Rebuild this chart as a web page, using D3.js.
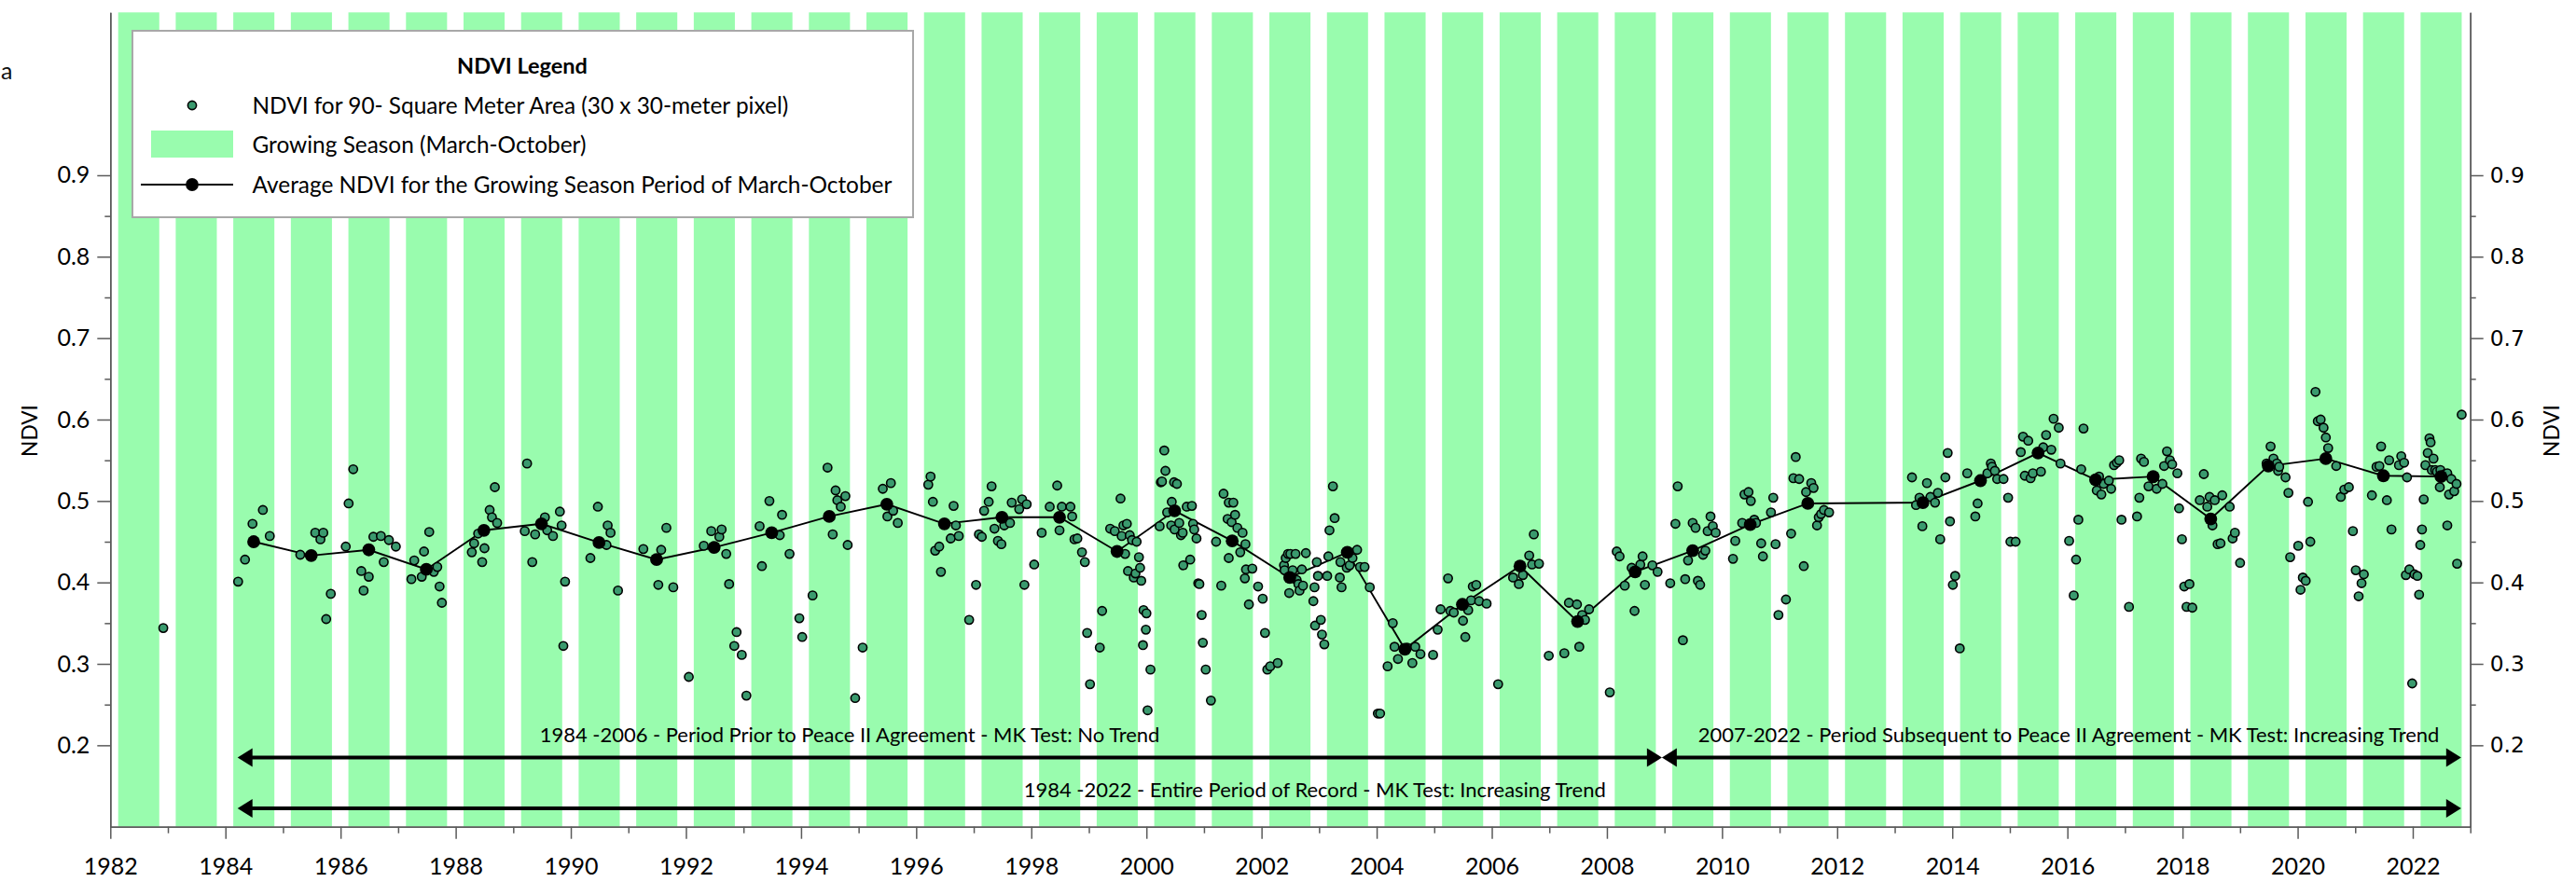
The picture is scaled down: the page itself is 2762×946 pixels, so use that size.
<!DOCTYPE html>
<html><head><meta charset="utf-8">
<script src="https://cdn.jsdelivr.net/npm/d3@7/dist/d3.min.js"></script>
<style>html,body{margin:0;padding:0;background:#fff;}svg{display:block;}</style>
</head><body>
<svg id="chart" width="2762" height="946"></svg>
<script>
// ---------- DATA ----------
// NDVI observations: [decimal year, NDVI]
const ndviPoints = [
[1982.92,0.344],
[1984.22,0.401],[1984.34,0.428],[1984.47,0.472],[1984.65,0.489],[1984.77,0.457],
[1985.30,0.434],[1985.56,0.461],[1985.65,0.453],[1985.70,0.461],[1985.75,0.355],[1985.83,0.386],
[1986.09,0.444],[1986.14,0.497],[1986.22,0.539],[1986.36,0.414],[1986.40,0.390],[1986.49,0.407],[1986.57,0.456],[1986.70,0.457],[1986.75,0.425],[1986.84,0.452],[1986.96,0.444],
[1987.23,0.404],[1987.28,0.427],[1987.41,0.407],[1987.45,0.438],[1987.54,0.462],[1987.62,0.413],[1987.68,0.419],[1987.72,0.395],[1987.76,0.375],
[1988.28,0.437],[1988.32,0.448],[1988.39,0.460],[1988.46,0.425],[1988.50,0.442],[1988.59,0.489],[1988.63,0.480],[1988.68,0.517],[1988.72,0.473],
[1989.20,0.463],[1989.24,0.546],[1989.33,0.425],[1989.38,0.459],[1989.55,0.480],[1989.59,0.464],[1989.69,0.457],[1989.81,0.487],[1989.84,0.470],[1989.87,0.322],[1989.90,0.401],
[1990.34,0.430],[1990.47,0.493],[1990.62,0.446],[1990.64,0.470],[1990.69,0.461],[1990.82,0.390],
[1991.26,0.441],[1991.52,0.397],[1991.57,0.440],[1991.66,0.467],[1991.78,0.394],[1992.05,0.284],
[1992.31,0.445],[1992.44,0.463],[1992.58,0.456],[1992.62,0.465],[1992.70,0.435],[1992.75,0.398],[1992.84,0.322],[1992.88,0.339],[1992.97,0.311],[1993.05,0.261],
[1993.28,0.469],[1993.32,0.420],[1993.45,0.500],[1993.63,0.458],[1993.67,0.483],[1993.80,0.435],[1993.97,0.356],[1994.02,0.333],
[1994.20,0.384],[1994.46,0.541],[1994.55,0.459],[1994.60,0.513],[1994.63,0.501],[1994.69,0.493],[1994.77,0.506],[1994.81,0.446],[1994.94,0.258],[1995.07,0.320],
[1995.42,0.515],[1995.50,0.481],[1995.56,0.522],[1995.60,0.488],[1995.68,0.473],
[1996.21,0.520],[1996.25,0.530],[1996.29,0.499],[1996.33,0.439],[1996.40,0.444],[1996.43,0.413],[1996.60,0.454],[1996.65,0.494],[1996.69,0.470],[1996.74,0.457],[1996.92,0.354],
[1997.04,0.397],[1997.09,0.459],[1997.14,0.456],[1997.18,0.488],[1997.26,0.499],[1997.31,0.518],[1997.36,0.466],[1997.42,0.451],[1997.48,0.447],[1997.53,0.470],[1997.63,0.473],[1997.66,0.498],[1997.79,0.490],[1997.84,0.502],[1997.88,0.397],[1997.92,0.496],
[1998.05,0.422],[1998.18,0.461],[1998.32,0.493],[1998.45,0.519],[1998.49,0.464],[1998.53,0.493],[1998.68,0.493],[1998.71,0.481],[1998.75,0.453],[1998.80,0.454],[1998.88,0.437],[1998.93,0.425],[1998.97,0.338],
[1999.02,0.275],[1999.19,0.320],[1999.23,0.365],[1999.37,0.466],[1999.45,0.463],[1999.55,0.503],[1999.57,0.457],[1999.60,0.470],[1999.63,0.435],[1999.66,0.472],[1999.68,0.414],[1999.71,0.458],[1999.75,0.452],[1999.78,0.406],[1999.81,0.411],[1999.83,0.450],[1999.87,0.431],[1999.89,0.418],[1999.91,0.402],[1999.94,0.323],[1999.95,0.366],[1999.99,0.342],[2000.00,0.362],[2000.02,0.243],[2000.07,0.293],
[2000.23,0.469],[2000.25,0.523],[2000.27,0.524],[2000.31,0.562],[2000.33,0.537],[2000.36,0.486],[2000.43,0.470],[2000.44,0.499],[2000.48,0.523],[2000.49,0.465],[2000.53,0.521],[2000.57,0.473],[2000.60,0.458],[2000.63,0.461],[2000.64,0.421],[2000.70,0.493],[2000.76,0.428],[2000.79,0.494],[2000.81,0.472],[2000.83,0.465],[2000.87,0.454],[2000.90,0.399],[2000.92,0.398],[2000.96,0.360],[2000.98,0.326],[2001.03,0.293],[2001.12,0.255],
[2001.21,0.450],[2001.30,0.396],[2001.34,0.509],[2001.41,0.478],[2001.43,0.498],[2001.43,0.430],[2001.48,0.474],[2001.51,0.498],[2001.54,0.483],[2001.58,0.467],[2001.63,0.437],[2001.67,0.461],[2001.71,0.405],[2001.72,0.447],[2001.73,0.416],[2001.78,0.373],[2001.84,0.417],[2001.94,0.395],[2002.02,0.380],[2002.06,0.338],[2002.10,0.293],[2002.15,0.297],[2002.28,0.301],
[2002.39,0.421],[2002.40,0.415],[2002.42,0.430],[2002.46,0.435],[2002.48,0.387],[2002.50,0.435],[2002.54,0.415],[2002.59,0.435],[2002.61,0.403],[2002.64,0.398],[2002.66,0.390],[2002.70,0.416],[2002.72,0.396],[2002.77,0.436],[2002.90,0.377],[2002.92,0.394],[2002.93,0.347],[2002.96,0.425],[2002.98,0.408],[2003.03,0.354],[2003.05,0.336],[2003.09,0.324],
[2003.14,0.408],[2003.16,0.432],[2003.18,0.464],[2003.24,0.518],[2003.27,0.479],[2003.36,0.406],[2003.37,0.425],[2003.39,0.394],[2003.48,0.418],[2003.53,0.421],[2003.58,0.430],[2003.66,0.440],[2003.71,0.419],[2003.79,0.419],[2003.88,0.394],[2004.02,0.239],[2004.06,0.239],
[2004.19,0.297],[2004.28,0.350],[2004.31,0.321],[2004.37,0.306],[2004.53,0.320],[2004.62,0.301],[2004.67,0.321],[2004.76,0.312],[2004.98,0.311],
[2005.06,0.342],[2005.11,0.367],[2005.24,0.405],[2005.28,0.365],[2005.34,0.363],[2005.50,0.353],[2005.54,0.333],[2005.59,0.366],[2005.64,0.378],[2005.67,0.395],[2005.73,0.397],[2005.78,0.377],[2005.91,0.374],[2006.11,0.275],
[2006.37,0.406],[2006.47,0.398],[2006.54,0.409],[2006.65,0.433],[2006.70,0.422],[2006.73,0.459],[2006.82,0.423],
[2006.99,0.310],[2007.26,0.313],[2007.34,0.375],[2007.48,0.373],[2007.52,0.321],[2007.57,0.360],[2007.62,0.354],[2007.69,0.367],[2008.05,0.265],
[2008.17,0.438],[2008.22,0.432],[2008.31,0.396],[2008.43,0.418],[2008.48,0.365],[2008.58,0.422],[2008.62,0.432],[2008.66,0.397],[2008.79,0.421],[2008.88,0.413],[2009.10,0.399],
[2009.19,0.472],[2009.23,0.518],[2009.32,0.329],[2009.36,0.404],[2009.41,0.427],[2009.49,0.473],[2009.54,0.467],[2009.58,0.402],[2009.62,0.397],[2009.67,0.434],[2009.71,0.439],[2009.75,0.463],[2009.80,0.481],[2009.84,0.469],[2009.89,0.461],
[2010.19,0.429],[2010.23,0.451],[2010.35,0.473],[2010.39,0.508],[2010.46,0.511],[2010.50,0.500],[2010.56,0.477],[2010.59,0.473],[2010.68,0.448],[2010.71,0.432],[2010.85,0.486],[2010.89,0.504],[2010.93,0.447],[2010.98,0.360],[2011.11,0.379],
[2011.20,0.460],[2011.24,0.528],[2011.28,0.554],[2011.34,0.527],[2011.42,0.420],[2011.46,0.511],[2011.55,0.522],[2011.59,0.516],[2011.65,0.470],[2011.68,0.480],[2011.72,0.484],[2011.77,0.489],[2011.86,0.486],
[2013.30,0.529],[2013.37,0.495],[2013.43,0.504],[2013.48,0.469],[2013.56,0.522],[2013.62,0.505],[2013.70,0.498],[2013.75,0.510],[2013.79,0.453],[2013.88,0.529],[2013.92,0.559],[2013.96,0.475],[2014.01,0.397],[2014.05,0.408],[2014.13,0.319],
[2014.26,0.534],[2014.40,0.481],[2014.44,0.497],[2014.61,0.534],[2014.67,0.546],[2014.69,0.542],[2014.74,0.537],[2014.78,0.527],[2014.89,0.527],[2014.97,0.504],[2015.01,0.450],[2015.10,0.450],
[2015.19,0.560],[2015.23,0.579],[2015.26,0.531],[2015.32,0.574],[2015.36,0.528],[2015.40,0.534],[2015.54,0.536],[2015.58,0.566],[2015.63,0.581],[2015.72,0.563],[2015.76,0.601],[2015.85,0.590],[2015.88,0.546],[2016.03,0.451],[2016.11,0.384],
[2016.15,0.428],[2016.19,0.477],[2016.24,0.539],[2016.28,0.589],[2016.51,0.513],[2016.55,0.530],[2016.59,0.508],[2016.63,0.521],[2016.72,0.525],[2016.76,0.515],[2016.81,0.544],[2016.86,0.547],[2016.90,0.550],[2016.94,0.477],[2017.07,0.370],
[2017.21,0.481],[2017.25,0.504],[2017.28,0.552],[2017.33,0.548],[2017.41,0.518],[2017.49,0.528],[2017.55,0.515],[2017.65,0.521],[2017.68,0.543],[2017.73,0.561],[2017.78,0.550],[2017.82,0.545],[2017.91,0.534],[2017.94,0.491],[2017.99,0.453],[2018.03,0.395],[2018.07,0.370],[2018.12,0.398],[2018.17,0.369],
[2018.30,0.501],[2018.37,0.533],[2018.43,0.493],[2018.47,0.505],[2018.52,0.470],[2018.56,0.501],[2018.61,0.447],[2018.66,0.448],[2018.69,0.507],[2018.82,0.493],[2018.87,0.454],[2018.91,0.461],[2019.00,0.424],
[2019.46,0.546],[2019.53,0.567],[2019.58,0.552],[2019.64,0.546],[2019.66,0.537],[2019.68,0.542],[2019.79,0.529],[2019.84,0.510],[2019.87,0.431],[2020.01,0.445],[2020.05,0.391],[2020.09,0.406],[2020.14,0.402],[2020.18,0.499],[2020.22,0.450],
[2020.31,0.634],[2020.35,0.598],[2020.40,0.600],[2020.45,0.590],[2020.49,0.578],[2020.53,0.565],[2020.67,0.543],[2020.75,0.505],[2020.81,0.514],[2020.89,0.517],[2020.96,0.463],[2021.01,0.415],[2021.06,0.383],[2021.11,0.399],[2021.15,0.410],
[2021.29,0.507],[2021.37,0.542],[2021.42,0.543],[2021.45,0.567],[2021.55,0.501],[2021.59,0.550],[2021.63,0.465],[2021.76,0.544],[2021.80,0.555],[2021.85,0.547],[2021.88,0.409],[2021.90,0.529],[2021.94,0.416],[2021.99,0.276],[2022.03,0.410],[2022.08,0.408],[2022.11,0.385],[2022.13,0.446],[2022.16,0.465],
[2022.19,0.502],[2022.22,0.544],[2022.26,0.559],[2022.29,0.577],[2022.31,0.572],[2022.33,0.538],[2022.36,0.552],[2022.39,0.538],[2022.42,0.536],[2022.47,0.517],[2022.48,0.538],[2022.56,0.533],[2022.60,0.534],[2022.60,0.470],[2022.63,0.508],[2022.67,0.527],[2022.72,0.512],[2022.76,0.521],[2022.77,0.423],[2022.85,0.606]
];

// Growing-season (March-October) average NDVI
const avgYears  = [1984,1985,1986,1987,1988,1989,1990,1991,1992,1993,1994,1995,1996,1997,1998,1999,2000,2001,2002,2003,2004,2005,2006,2007,2008,2009,2010,2011,2013,2014,2015,2016,2017,2018,2019,2020,2021,2022];
const avgValues = [0.450,0.433,0.440,0.416,0.464,0.472,0.449,0.428,0.443,0.461,0.481,0.496,0.472,0.480,0.480,0.438,0.488,0.451,0.406,0.437,0.318,0.373,0.420,0.352,0.413,0.439,0.471,0.497,0.498,0.525,0.559,0.526,0.530,0.478,0.543,0.552,0.531,0.530];
const avgMidSeason = 0.49;

// Growing season bands (fraction of year)
const seasonYears = d3.range(1982, 2023);
const seasonStart = 0.136, seasonEnd = 0.85;

// Axis ticks
const yMajorTicks = [0.2,0.3,0.4,0.5,0.6,0.7,0.8,0.9];
const yMinorTicks = [0.25,0.35,0.45,0.55,0.65,0.75,0.85];
const xMajorYears = d3.range(1982, 2023, 2);
const xMinorYears = d3.range(1983, 2024, 2);

// Legend / annotation texts
const legendTitle = "NDVI Legend";
const legendLabels = ["NDVI for 90- Square Meter Area (30 x 30-meter pixel)", "Growing Season (March-October)", "Average NDVI for the Growing Season Period of March-October"];
const periodArrows = [
  {from:1984.21, to:2008.955, level:0.185, text:"1984 -2006 - Period Prior to Peace II Agreement - MK Test: No Trend", textEnd:2000.23, textLevel:0.2125},
  {from:2008.955, to:2022.84, level:0.185, text:"2007-2022 - Period Subsequent to Peace II Agreement - MK Test: Increasing Trend", textEnd:2022.46, textLevel:0.2125},
  {from:1984.21, to:2022.84, level:0.1225, text:"1984 -2022 - Entire Period of Record - MK Test: Increasing Trend", textEnd:2007.98, textLevel:0.1455}
];

// ---------- DRAW ----------
const GREEN = "#99fcae", DOT = "#3a9a6e", AXIS = "#5a5a5a";
const FONT = "Lato, 'Open Sans', sans-serif";
const svg = d3.select("#chart");
const P = {left:118.3, right:2648.7, top:13.3, bottom:886.7};
const x = d3.scaleLinear().domain([1982, 2023]).range([P.left, P.right]);
const y = d3.scaleLinear().domain([0.1, 1.1]).range([P.bottom, P.top]);

function fit(text, family, weight, target){
  const t = svg.append("text").attr("font-family", family).attr("font-weight", weight).attr("font-size", 100).text(text);
  const w = t.node().getComputedTextLength(); t.remove();
  return 100 * target / w;
}
const tickFs = fit("1982", FONT, 400, 58);
const rightFs = fit("0.9", "'DejaVu Sans'", 400, 37);
const legFs = fit(legendLabels[0], FONT, 400, 575);
const titleFs = fit(legendTitle, FONT, 700, 140);
const annFs = fit(periodArrows[0].text, FONT, 400, 665);
const ndviFs = fit("NDVI", FONT, 400, 56);

// season bands
svg.append("g").selectAll("rect").data(seasonYears).join("rect")
  .attr("x", d => x(d + seasonStart)).attr("width", d => x(d + seasonEnd) - x(d + seasonStart))
  .attr("y", y(1.1)).attr("height", y(0.1) - y(1.1)).attr("fill", GREEN);

// period arrows
const ag = svg.append("g");
const HL = 16, HW = 10;
periodArrows.forEach(a => {
  const x0 = x(a.from), x1 = x(a.to), yy = y(a.level);
  ag.append("line").attr("x1", x0 + HL - 2).attr("x2", x1 - HL + 2).attr("y1", yy).attr("y2", yy)
    .attr("stroke", "#000").attr("stroke-width", 4);
  ag.append("path").attr("d", `M${x0},${yy}L${x0+HL},${yy-HW}L${x0+HL},${yy+HW}Z`).attr("fill", "#000");
  ag.append("path").attr("d", `M${x1},${yy}L${x1-HL},${yy-HW}L${x1-HL},${yy+HW}Z`).attr("fill", "#000");
  ag.append("text").attr("x", x(a.textEnd)).attr("y", y(a.textLevel)).attr("dy", "0.35em")
    .attr("text-anchor", "end").attr("font-family", FONT).attr("font-size", annFs).attr("fill", "#000").text(a.text);
});

// average line
const avgData = avgYears.map((yr, i) => [yr + avgMidSeason, avgValues[i]]);
svg.append("path").datum(avgData)
  .attr("d", d3.line().x(d => x(d[0])).y(d => y(d[1])))
  .attr("fill", "none").attr("stroke", "#000").attr("stroke-width", 1.9);

// NDVI points
svg.append("g").selectAll("circle").data(ndviPoints).join("circle")
  .attr("cx", d => x(d[0])).attr("cy", d => y(d[1])).attr("r", 4.6)
  .attr("fill", DOT).attr("stroke", "#000").attr("stroke-width", 1.6);

// average points
svg.append("g").selectAll("circle").data(avgData).join("circle")
  .attr("cx", d => x(d[0])).attr("cy", d => y(d[1])).attr("r", 6.9).attr("fill", "#000");

// axes
function styleAxis(g){
  g.select(".domain").attr("stroke", AXIS).attr("stroke-width", 1.5);
  g.selectAll(".tick line").attr("stroke", AXIS).attr("stroke-width", 1.5);
  g.selectAll("text").attr("fill", "#000");
}
const gl = svg.append("g").attr("transform", `translate(${P.left},0)`)
  .call(d3.axisLeft(y).tickValues(yMajorTicks).tickSize(14).tickPadding(8).tickSizeOuter(0).tickFormat(d3.format(".1f")))
  .attr("font-family", FONT).attr("font-size", tickFs);
styleAxis(gl);
const glm = svg.append("g").attr("transform", `translate(${P.left},0)`)
  .call(d3.axisLeft(y).tickValues(yMinorTicks).tickSize(6).tickSizeOuter(0).tickFormat(""));
styleAxis(glm);

const gr = svg.append("g").attr("transform", `translate(${P.right},0)`)
  .call(d3.axisRight(y).tickValues(yMajorTicks).tickSize(14).tickPadding(7).tickSizeOuter(0).tickFormat(d3.format(".1f")))
  .attr("font-family", "'DejaVu Sans', sans-serif").attr("font-size", rightFs);
styleAxis(gr);
const grm = svg.append("g").attr("transform", `translate(${P.right},0)`)
  .call(d3.axisRight(y).tickValues(yMinorTicks).tickSize(6).tickSizeOuter(0).tickFormat(""));
styleAxis(grm);

const gb = svg.append("g").attr("transform", `translate(0,${P.bottom})`)
  .call(d3.axisBottom(x).tickValues(xMajorYears).tickSize(13).tickSizeOuter(0).tickFormat(d3.format("d")))
  .attr("font-family", FONT).attr("font-size", tickFs);
styleAxis(gb);
gb.selectAll("text").attr("y", 51.5).attr("dy", 0);
const gbm = svg.append("g").attr("transform", `translate(0,${P.bottom})`)
  .call(d3.axisBottom(x).tickValues(xMinorYears).tickSize(7).tickSizeOuter(0).tickFormat(""));
styleAxis(gbm);

// axis titles
svg.append("text").attr("transform", `translate(32,${(P.top+P.bottom)/2 + 12}) rotate(-90)`)
  .attr("text-anchor", "middle").attr("dy", "0.35em").attr("font-family", FONT).attr("font-size", ndviFs).text("NDVI");
svg.append("text").attr("transform", `translate(2736,${(P.top+P.bottom)/2 + 12}) rotate(-90)`)
  .attr("text-anchor", "middle").attr("dy", "0.35em").attr("font-family", FONT).attr("font-size", ndviFs).text("NDVI");
svg.append("text").attr("x", 1).attr("y", 76).attr("dy", "0.35em").attr("text-anchor", "start")
  .attr("font-family", FONT).attr("font-size", tickFs).attr("fill", "#111").text("a");

// legend
const lg = svg.append("g");
lg.append("rect").attr("x", 142).attr("y", 33).attr("width", 837).attr("height", 200)
  .attr("fill", "#fff").attr("stroke", "#a8a8a8").attr("stroke-width", 2);
lg.append("text").attr("x", 560).attr("y", 71).attr("dy", "0.35em").attr("text-anchor", "middle")
  .attr("font-family", FONT).attr("font-weight", 700).attr("font-size", titleFs).text(legendTitle);
lg.append("circle").attr("cx", 206).attr("cy", 113).attr("r", 4.6).attr("fill", DOT).attr("stroke", "#000").attr("stroke-width", 1.6);
lg.append("rect").attr("x", 162).attr("y", 140).attr("width", 88).attr("height", 29).attr("fill", GREEN);
lg.append("line").attr("x1", 151).attr("x2", 250).attr("y1", 198).attr("y2", 198).attr("stroke", "#000").attr("stroke-width", 1.9);
lg.append("circle").attr("cx", 206).attr("cy", 198).attr("r", 6.9).attr("fill", "#000");
[113, 155, 198].forEach((yy, i) => {
  lg.append("text").attr("x", 270.5).attr("y", yy).attr("dy", "0.35em")
    .attr("font-family", FONT).attr("font-size", legFs).attr("fill", "#000").text(legendLabels[i]);
});
</script>
</body></html>
